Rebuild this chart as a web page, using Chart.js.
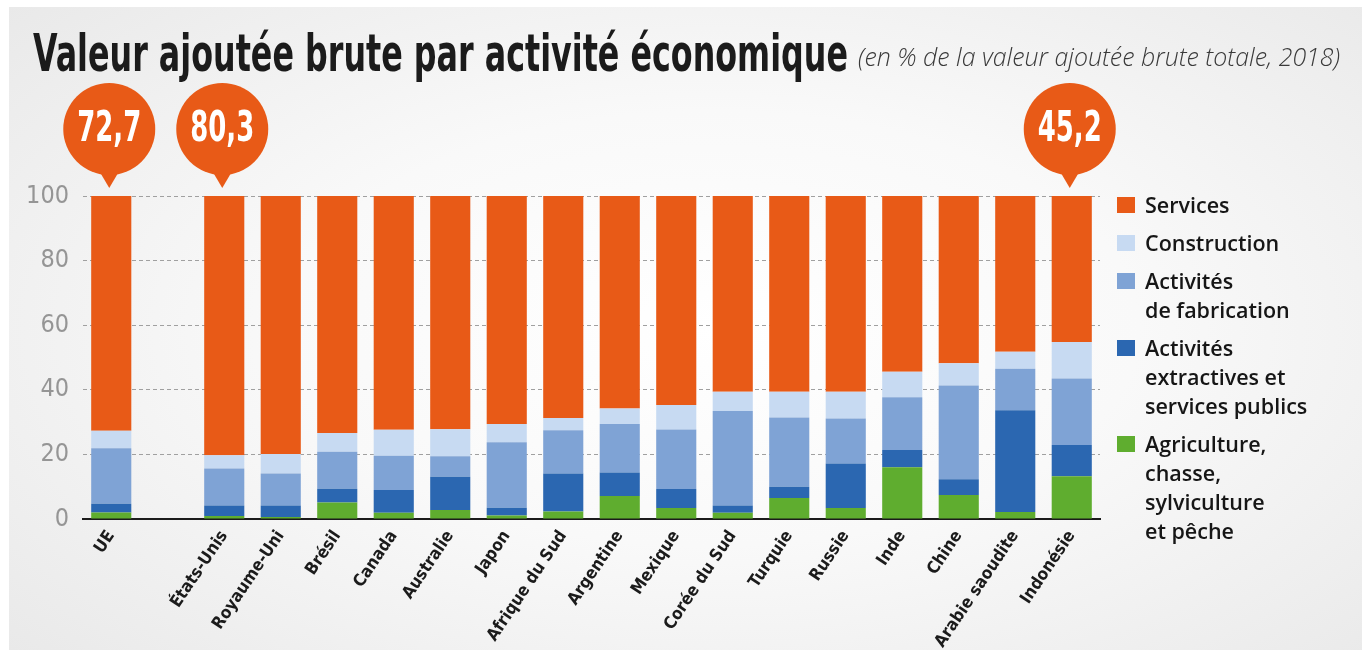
<!DOCTYPE html>
<html lang="fr">
<head>
<meta charset="utf-8">
<script src="https://cdn.jsdelivr.net/npm/chart.js@4.4.1/dist/chart.umd.min.js"></script>
<style>
  html, body { margin:0; padding:0; background:#fff; }
  #card { position:absolute; left:9px; top:7px; width:1353px; height:643px;
    background: radial-gradient(ellipse 70% 75% at 52% 50%, #ffffff 0%, #f9f9f9 45%, #e9e9e9 100%); }
  #wrap { position:absolute; left:0; top:0; width:1370px; height:659px; }
  #title { position:absolute; left:33px; top:27px; white-space:nowrap; transform-origin:0 0;
    font-family:'DejaVu Sans Condensed','Liberation Sans Narrow','Roboto',sans-serif; font-weight:700; font-size:52px; color:#1b1b1b; line-height:1; }
  #subtitle { position:absolute; left:858px; top:44px; white-space:nowrap; transform-origin:0 0;
    font-family:'Open Sans','Liberation Sans',sans-serif; font-style:italic; font-weight:300; font-size:25px; color:#3a3a3a; line-height:1; }
  #legend { position:absolute; left:1117px; top:190px; font-family:'Open Sans','Liberation Sans',sans-serif; font-weight:600; font-size:21.5px; color:#161616; }
  .item { position:relative; padding-left:28px; line-height:29px; margin-bottom:9px; }
  .sw { position:absolute; left:0; top:7px; width:18px; height:16px; }
</style>
</head>
<body>
<div id="card"></div>
<div id="wrap"><canvas id="c" width="1370" height="659"></canvas></div>
<div id="title">Valeur ajoutée brute par activité économique</div>
<div id="subtitle">(en % de la valeur ajoutée brute totale, 2018)</div>
<div id="legend"></div>
<script>
const categories = ['UE','','États-Unis','Royaume-Uni','Brésil','Canada','Australie','Japon','Afrique du Sud','Argentine','Mexique','Corée du Sud','Turquie','Russie','Inde','Chine','Arabie saoudite','Indonésie'];
const agriculture  = [2.0,null,0.9,0.6,5.1,1.9,2.8,1.1,2.3,7.1,3.4,1.9,6.5,3.4,16.0,7.4,2.2,13.2];
const extractives  = [2.7,null,3.3,3.6,4.3,7.1,10.3,2.4,11.8,7.3,5.9,2.3,3.5,13.8,5.4,4.9,31.5,9.7];
const fabrication  = [17.2,null,11.4,9.9,11.4,10.6,6.3,20.3,13.4,15.0,18.4,29.2,21.4,13.9,16.3,29.0,12.8,20.6];
const construction = [5.4,null,4.1,6.0,5.8,8.0,8.4,5.6,3.8,4.8,7.6,6.0,8.0,8.3,7.9,6.9,5.3,11.3];
const services     = [72.7,null,80.3,79.9,73.4,72.4,72.2,70.6,68.7,65.8,64.7,60.6,60.6,60.6,54.4,51.8,48.2,45.2];
const highlighted  = ['UE','États-Unis','Indonésie'];
const yTicks = [0,20,40,60,80,100];

const seriesNames = ['Agriculture, chasse, sylviculture et pêche','Activités extractives et services publics','Activités de fabrication','Construction','Services'];
const legendLines = [['Services'],['Construction'],['Activités','de fabrication'],['Activités','extractives et','services publics'],['Agriculture,','chasse,','sylviculture','et pêche']];
const colors = ['#5fad2f','#2b67b1','#7fa3d5','#c7daf2','#e85a17'];

function fitWidth(id, w){ const el=document.getElementById(id); const r=el.getBoundingClientRect().width; el.style.transform='scaleX('+(w/r)+')'; }
fitWidth('title', 815);
fitWidth('subtitle', 482);

const lg = document.getElementById('legend');
const legendColors = colors.slice().reverse();
legendLines.forEach((lines,i)=>{
  const d=document.createElement('div'); d.className='item';
  const s=document.createElement('span'); s.className='sw'; s.style.background=legendColors[i]; d.appendChild(s);
  lines.forEach((t,j)=>{ if(j) d.appendChild(document.createElement('br')); d.appendChild(document.createTextNode(t)); });
  lg.appendChild(d);
});

const CF = "'DejaVu Sans Condensed','Liberation Sans Narrow','Roboto',sans-serif";
const seriesData = [agriculture, extractives, fabrication, construction, services];

const bubbles = {
  id:'bubbles',
  afterDraw(chart){
    const ctx=chart.ctx, xs=chart.scales.x;
    highlighted.forEach(name=>{
      const i=categories.indexOf(name);
      const cx=xs.getPixelForValue(i)-2, cy=129, r=46, tip=188;
      ctx.save();
      ctx.fillStyle='#e85a17';
      ctx.beginPath(); ctx.arc(cx,cy,r,0,Math.PI*2); ctx.fill();
      ctx.beginPath(); ctx.moveTo(cx-10,cy+r-4); ctx.lineTo(cx+10,cy+r-4); ctx.lineTo(cx,tip); ctx.closePath(); ctx.fill();
      const txt=services[i].toFixed(1).replace('.',',');
      ctx.font="bold 42px "+CF;
      const w=ctx.measureText(txt).width;
      const sx=64/w;
      ctx.translate(cx,cy+1); ctx.scale(sx,1);
      ctx.fillStyle='#fff'; ctx.textAlign='center'; ctx.textBaseline='middle';
      ctx.fillText(txt,0,0);
      ctx.restore();
    });
  }
};

new Chart(document.getElementById('c'), {
  type:'bar',
  data:{ labels:categories,
    datasets: seriesData.map((d,i)=>({ label:seriesNames[i], data:d, backgroundColor:colors[i], borderWidth:0, barPercentage:0.71, categoryPercentage:1 })) },
  options:{
    responsive:false, animation:false,
    layout:{ padding:{ left:0, right:270, top:196, bottom:10 } },
    plugins:{ legend:{display:false}, tooltip:{enabled:false} },
    scales:{
      x:{ stacked:true,
        grid:{ display:false },
        border:{ display:true, color:'#1b1b1b', width:2 },
        ticks:{ minRotation:56, maxRotation:56, padding:0, color:'#1b1b1b', font:{ family:CF, weight:'bold', size:17 } },
        afterFit(s){ s.height=130; }
      },
      y:{ stacked:true, min:0, max:100,
        afterBuildTicks(s){ s.ticks = yTicks.map(v=>({value:v})); },
        grid:{ drawTicks:false, color:(c)=> c.tick && c.tick.value===0 ? 'rgba(0,0,0,0)' : '#a0a0a0', lineWidth:1 },
        border:{ display:false, dash:[4,3] },
        ticks:{ padding:14, color:'#959595', font:{ family:CF, size:25 } },
        afterFit(s){ s.width=83; }
      }
    }
  },
  plugins:[bubbles]
});
</script>
</body>
</html>
